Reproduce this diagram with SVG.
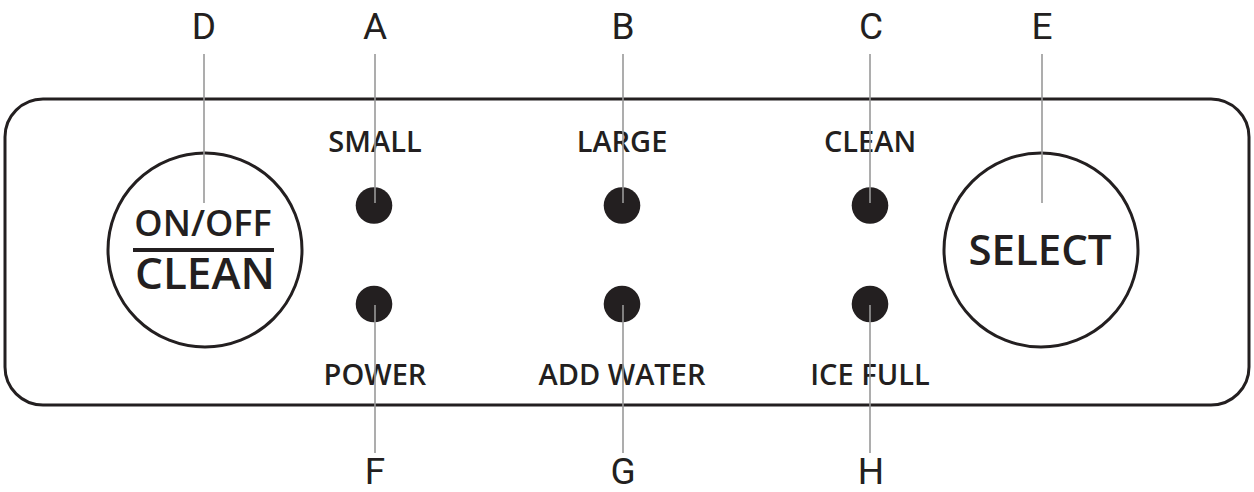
<svg xmlns="http://www.w3.org/2000/svg" width="1254" height="492" viewBox="0 0 1254 492">
<style>
.panel{fill:#fff;stroke:#231f20;stroke-width:3}
.btn{fill:#fff;stroke:#231f20;stroke-width:3}
.led{fill:#231f20}
.lead{stroke:#999;stroke-width:1.6;fill:none}
.letter{font-family:Roboto,"Liberation Sans",sans-serif;font-size:37px;fill:#231f20;text-anchor:middle}
.lbl{font-family:"Open Sans","Noto Sans",sans-serif;font-weight:600;font-size:29px;fill:#231f20;text-anchor:middle}
.big{font-family:"Open Sans","Noto Sans",sans-serif;font-weight:600;fill:#231f20;text-anchor:middle}
</style>
<rect class="panel" x="5" y="99" width="1244" height="306" rx="38" ry="38"/>
<g id="D"><circle class="btn" cx="205" cy="250" r="97"/>
<text class="big" x="203" y="236" font-size="36">ON/OFF</text>
<rect x="133" y="248" width="141" height="4" fill="#231f20"/>
<text class="big" x="205" y="289" font-size="44">CLEAN</text></g>
<g id="E"><circle class="btn" cx="1041" cy="250" r="97"/>
<text class="big" x="1040" y="265" font-size="42">SELECT</text></g>
<g id="A"><text class="lbl" x="375" y="152">SMALL</text><circle class="led" cx="374" cy="205.5" r="18.3"/></g>
<g id="B"><text class="lbl" x="622" y="152">LARGE</text><circle class="led" cx="622" cy="205.5" r="18.3"/></g>
<g id="C"><text class="lbl" x="870" y="152">CLEAN</text><circle class="led" cx="870" cy="205.5" r="18.3"/></g>
<g id="F"><circle class="led" cx="374" cy="304" r="18.3"/><text class="lbl" x="375" y="385">POWER</text></g>
<g id="G"><circle class="led" cx="622" cy="304" r="18.3"/><text class="lbl" x="622" y="385">ADD WATER</text></g>
<g id="H"><circle class="led" cx="870" cy="304" r="18.3"/><text class="lbl" x="870" y="385">ICE FULL</text></g>
<g id="connectors">
<line class="lead" x1="204" y1="54" x2="204" y2="203"/>
<line class="lead" x1="375" y1="54" x2="375" y2="203"/>
<line class="lead" x1="623" y1="54" x2="623" y2="203"/>
<line class="lead" x1="870" y1="54" x2="870" y2="203"/>
<line class="lead" x1="1042" y1="54" x2="1042" y2="203"/>
<line class="lead" x1="375" y1="305" x2="375" y2="453"/>
<line class="lead" x1="623" y1="305" x2="623" y2="453"/>
<line class="lead" x1="870" y1="305" x2="870" y2="453"/>
</g>
<g id="letters">
<text class="letter" x="204" y="39">D</text>
<text class="letter" x="375" y="39">A</text>
<text class="letter" x="623" y="39">B</text>
<text class="letter" x="871" y="39">C</text>
<text class="letter" x="1042" y="39">E</text>
<text class="letter" x="375" y="484">F</text>
<text class="letter" x="623" y="484">G</text>
<text class="letter" x="871" y="484">H</text>
</g>
</svg>
